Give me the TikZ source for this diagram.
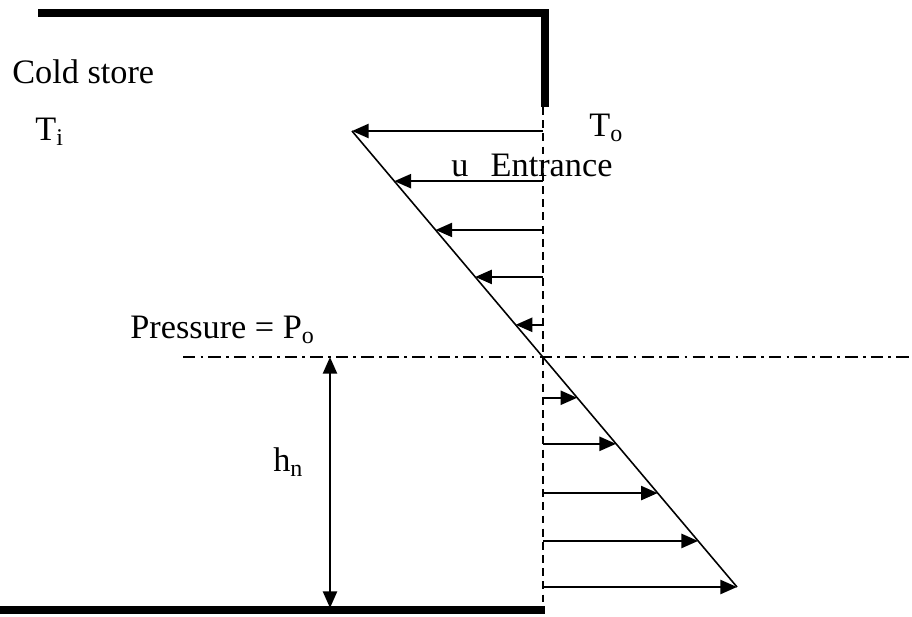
\documentclass[tikz,border=0pt]{standalone}
\usepackage{fontspec}
\setmainfont{Liberation Serif}
\usepackage{tikz}
\usetikzlibrary{arrows.meta, positioning, calc}

\tikzset{
    wall/.style={line width=4pt},
    flow/.style={line width=1.3pt, -{Triangle[length=9.5pt,width=8pt]}},
    label/.style={font=\fontsize{19.5}{22}\selectfont, inner sep=0pt, anchor=west}
}

\begin{document}
\begin{tikzpicture}[x=0.02cm, y=-0.02cm]
            \useasboundingbox (0,0) rectangle (912,616);
            \coordinate (wallA) at (38,13);
            \coordinate (wallB) at (545,13);
            \coordinate (door) at (545,107);
            \coordinate (floorL) at (0,610);
            \coordinate (floorR) at (545,610);
            \coordinate (axisT) at (543,107);
            \coordinate (axisB) at (543,612);
            \coordinate (top) at (352,131);
            \coordinate (bot) at (737,587);
            \coordinate (neutL) at (183,357);
            \coordinate (neutR) at (912,357);
            \coordinate (hTop) at (330,357);
            \coordinate (hBot) at (330,608);
            \draw[wall] (wallA) -- (wallB) -- (door);
            \draw[wall] (floorL) -- (floorR);
            \draw[line width=1.1pt, dash pattern=on 4.5pt off 3pt] (axisT) -- (axisB);
            \draw[line width=0.9pt, dash pattern=on 7pt off 3pt on 1.5pt off 3pt] (neutL) -- (neutR);
            \draw[line width=0.9pt] (top) -- (bot);
            \foreach \t [count=\i] in {0, 0.11, 0.217, 0.32, 0.425, 0.585, 0.686, 0.794, 0.899, 1} {
                \coordinate (d\i) at ($(top)!\t!(bot)$);
                \draw[flow] (d\i -| axisT) -- (d\i);
            }
            \draw[flow, {Triangle[length=9.5pt,width=8pt]}-{Triangle[length=9.5pt,width=8pt]}] (hTop) -- (hBot);
            \node[label] (store) at (12,72) {Cold store};
            \node[label] (tin) at (35,132) {T\textsubscript{i}};
            \node[label] (tout) at (589,128) {T\textsubscript{o}};
            \node[label] (entr) at (451,165) {u\hspace{0.65em}Entrance};
            \node[label] (press) at (130,330) {Pressure = P\textsubscript{o}};
            \node[label] (hn) at (273,462) {h\textsubscript{n}};
        \end{tikzpicture}
\end{document}
